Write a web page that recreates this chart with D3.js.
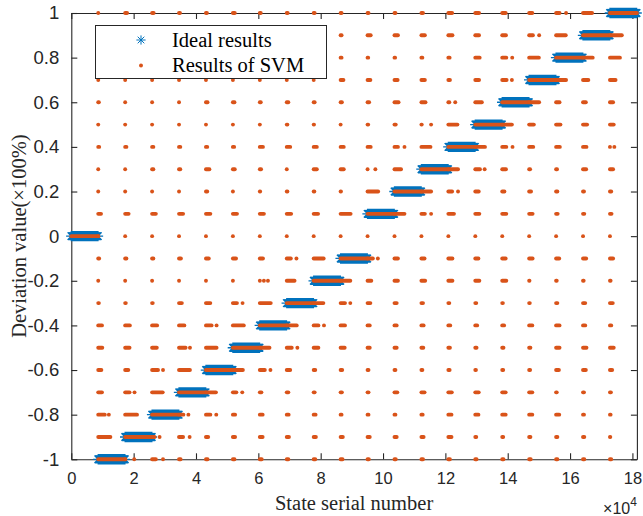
<!DOCTYPE html>
<html>
<head>
<meta charset="utf-8">
<script src="https://cdn.jsdelivr.net/npm/d3@7"></script>
<style>
  body { margin: 0; background: #fff; }
  svg { display: block; }
</style>
</head>
<body>
<svg id="chart" width="643" height="516"></svg>
<script>
// ---- data ---------------------------------------------------------------
// Ideal deviation level of each block of states, in order along the x axis
const idealLevels = [0, -1, -0.9, -0.8, -0.7, -0.6, -0.5, -0.4, -0.3, -0.2, -0.1,
                     0.1, 0.2, 0.3, 0.4, 0.5, 0.6, 0.7, 0.8, 0.9, 1];
const blockStates = 8640;          // states per block
const xUnit = 1e4;                 // x axis is shown in units of 10^4 states

const xTickValues = [0, 2, 4, 6, 8, 10, 12, 14, 16, 18];
const xTickLabels = ["0", "2", "4", "6", "8", "10", "12", "14", "16", "18"];
const yTickValues = [-1, -0.8, -0.6, -0.4, -0.2, 0, 0.2, 0.4, 0.6, 0.8, 1];
const yTickLabels = ["-1", "-0.8", "-0.6", "-0.4", "-0.2", "0", "0.2", "0.4", "0.6", "0.8", "1"];

// Output levels of the SVM (one row of svmRuns per level)
const svmLevels = [1, 0.9, 0.8, 0.7, 0.6, 0.5, 0.4, 0.3, 0.2, 0.1, 0,
                   -0.1, -0.2, -0.3, -0.4, -0.5, -0.6, -0.7, -0.8, -0.9, -1];

// For blocks 1..20: length (x10^4 states) of the run of states that the SVM put
// on this level, counted from the block start. [len, off, ...] adds isolated
// states at the given offsets. null = the block's own (ideal) level.
const svmRuns = [
  [0, .06, .05, .03, .03, .06, .03, .03, .03, .03, .03, .03, .05, .12, .12, .11, .10, [.11, .32], .29, null],
  [.03, .03, .03, .03, .03, .03, .03, .03, .03, .03, .10, .11, .11, .13, .12, .12, [.12, .32], .31, null, .38],
  [.03, .03, .03, .03, .03, .03, .03, .03, .03, .03, .02, .02, .03, .04, .14, [.13, .32], .31, null, .31, .32],
  [0, 0, 0, 0, 0, 0, 0, 0, 0, .09, .09, .10, .11, .05, .12, [.14, .31], null, .32, .17, .18],
  [.02, 0, 0, 0, .05, .05, .03, .05, .03, .04, .05, .13, .13, [.03, .22], .21, null, .32, .11, .09, .10],
  [0, 0, 0, 0, 0, 0, 0, .02, .01, 0, .02, .04, [.01, .31], .29, null, .31, .15, .14, .13, .12],
  [.03, .04, .04, .04, .04, .04, .10, .11, .10, .10, .10, [.11, .32], .29, null, .31, [.13, .33], .13, .12, .11, [0, .14]],
  [0, 0, .04, .04, .11, .06, .04, 0, .10, .10, [0, .25], .21, null, .31, [.15, .30], .12, .03, .03, .10, .10],
  [0, 0, 0, 0, .04, 0, .01, .02, .02, .01, .34, null, .31, [.12, .31], .11, .07, .06, .04, .03, .04],
  [.09, .11, .12, .13, .14, .13, .13, .14, .14, .32, null, .32, [.11, .31], .18, .13, .13, .11, .05, .04, .05],
  [0, 0, 0, 0, 0, 0, 0, 0, 0, 0, 0, 0, 0, 0, 0, 0, 0, 0, 0, 0],
  [.03, .04, .04, .06, .09, .10, .10, [.13, .31], .32, null, [.17, .33], .11, .10, .13, .10, .11, .11, .10, .10, .10],
  [0, 0, 0, 0, 0, 0, [0, .13, .26], .25, null, .31, .12, .11, .12, .13, .13, .13, .01, .02, .02, .02],
  [.02, .02, .02, .09, .14, [.13, .31], .35, null, .31, [.14, .31], .09, .07, .05, .03, .03, .02, .02, .04, .07, .09],
  [.12, .15, .16, .17, [.18, .34], .35, null, .32, [.15, .33], .14, .07, .07, .07, .06, .06, .06, .10, .11, .07, .04],
  [.13, .14, .15, [.21, .35], .34, null, .31, [.16, .34], .15, .13, .07, .07, .06, .05, .04, .04, .04, .11, .11, .12],
  [.10, .10, [.19, .35], .35, null, .32, [.16, .34], .11, .05, .05, .03, .03, .03, .04, .02, .03, .03, .09, .09, .07],
  [.12, [.14, .30], .34, null, .32, [.11, .30], .05, .05, .03, .04, .03, .09, .10, .11, .11, .11, .10, .02, .03, .03],
  [[.21, .34], .38, null, [.14, .30], [.14, .33], .07, .09, .06, .06, .03, .03, .03, .04, .10, .10, .11, .10, .10, .03, .02],
  [.39, null, [.08, .24], [.13, .34], .07, .07, .09, .07, .07, .07, .07, .07, .07, .10, .03, .03, .04, .04, .04, .01],
  [null, [0, .29], [.12, .35], .05, .05, .05, .06, .05, .05, .06, .04, .04, .05, .05, .04, .04, .05, .04, .04, .04]
];

const legendLabels = ["Ideal results", "Results of SVM"];
const xLabel = "State serial number";
const yLabel = "Deviation value(\u00d7100%)";

// ---- layout -------------------------------------------------------------
const W = 643, H = 516;
const plot = { left: 71.3, right: 636.9, top: 13, bottom: 459.3 };
const BLUE = "#0072BD", ORANGE = "#D95319", AXIS = "#262626";
const serif = "'Liberation Serif', 'Times New Roman', serif";
const sans = "'Liberation Sans', Arial, Helvetica, sans-serif";

const blockLen = blockStates / xUnit;
const x = d3.scaleLinear().domain([0, idealLevels.length * blockLen]).range([plot.left, plot.right]);
const y = d3.scaleLinear().domain([-1, 1]).range([plot.bottom, plot.top]);

const svg = d3.select("#chart");
svg.append("rect").attr("width", W).attr("height", H).attr("fill", "#fff");

// ---- axes (box with inward ticks) --------------------------------------
const tickLen = 6;
const gAxes = svg.append("g").attr("class", "axes");

const xBottom = d3.axisBottom(x).tickValues(xTickValues)
  .tickFormat((d, i) => xTickLabels[i]).tickSizeInner(-tickLen).tickSizeOuter(0).tickPadding(13);
const xTop = d3.axisTop(x).tickValues(xTickValues).tickFormat("").tickSizeInner(-tickLen).tickSizeOuter(0);
const yLeft = d3.axisLeft(y).tickValues(yTickValues)
  .tickFormat((d, i) => yTickLabels[i]).tickSizeInner(-tickLen).tickSizeOuter(0).tickPadding(12);
const yRight = d3.axisRight(y).tickValues(yTickValues).tickFormat("").tickSizeInner(-tickLen).tickSizeOuter(0);

const gx = gAxes.append("g").attr("transform", `translate(0,${plot.bottom})`).call(xBottom);
gAxes.append("g").attr("transform", `translate(0,${plot.top})`).call(xTop);
const gy = gAxes.append("g").attr("transform", `translate(${plot.left},0)`).call(yLeft);
gAxes.append("g").attr("transform", `translate(${plot.right},0)`).call(yRight);

gAxes.selectAll(".domain").attr("stroke", AXIS).attr("stroke-width", 1.1);
gAxes.selectAll(".tick line").attr("stroke", AXIS).attr("stroke-width", 1.1);
gAxes.selectAll(".tick text").attr("fill", AXIS).style("font-family", sans);
gx.selectAll(".tick text").style("font-size", "16.5px");
gy.selectAll(".tick text").style("font-size", "18.5px");

// exponent note under the x axis
const expo = svg.append("text").attr("x", plot.right).attr("y", 514)
  .attr("text-anchor", "end").attr("fill", AXIS)
  .style("font-family", sans).style("font-size", "16px");
expo.append("tspan").text("\u00d710");
expo.append("tspan").attr("dy", -8).style("font-size", "12px").text("4");

// axis titles
svg.append("text").attr("x", (plot.left + plot.right) / 2).attr("y", 510)
  .attr("text-anchor", "middle").attr("fill", AXIS)
  .style("font-family", serif).style("font-size", "20.5px").text(xLabel);
svg.append("text")
  .attr("transform", `translate(26,${(plot.top + plot.bottom) / 2}) rotate(-90)`)
  .attr("text-anchor", "middle").attr("fill", AXIS)
  .style("font-family", serif).style("font-size", "20.5px").text(yLabel);

// ---- ideal results: one asterisk per sampled state --------------------
const asteriskR = 5.2;
function asterisk(cx, cy, r = asteriskR) {
  const d = r * 0.72;
  return `M${cx - r},${cy}H${cx + r}` +
         `M${cx},${cy - r}V${cy + r}` +
         `M${cx - d},${cy - d}L${cx + d},${cy + d}` +
         `M${cx - d},${cy + d}L${cx + d},${cy - d}`;
}
const sampleStep = 150; // states between drawn asterisks
const gIdeal = svg.append("g").attr("class", "ideal");
idealLevels.forEach((lv, k) => {
  const states = d3.range(k * blockStates, (k + 1) * blockStates + 1, sampleStep);
  gIdeal.append("path")
    .attr("d", states.map(s => asterisk(x(s / xUnit), y(lv))).join(""))
    .attr("fill", "none").attr("stroke", BLUE).attr("stroke-width", 1.3);
});

// ---- SVM results: runs of states drawn as dense dots --------------------
const dotW = 3.9;
const gSvm = svg.append("g").attr("class", "svm")
  .attr("stroke", ORANGE).attr("stroke-width", dotW).attr("stroke-linecap", "round").attr("fill", "none");
function run(level, from, len) {
  const x0 = x(from), x1 = x(from + len);
  gSvm.append("path").attr("d", `M${x0},${y(level)}H${Math.max(x1, x0 + 0.01)}`);
}
// the correctly classified part of each block
idealLevels.forEach((lv, k) => run(lv, k * blockLen, blockLen));
// misclassified states at the start of each block
svmRuns.forEach((row, r) => {
  const lv = svmLevels[r];
  row.forEach((cell, c) => {
    if (cell === null) return;
    const start = (c + 1) * blockLen;
    const parts = Array.isArray(cell) ? cell : [cell];
    run(lv, start, parts[0]);
    parts.slice(1).forEach(off => run(lv, start + off, 0));
  });
});

// ---- legend -------------------------------------------------------------
const lg = svg.append("g").attr("class", "legend");
lg.append("rect").attr("x", 95.5).attr("y", 25.5).attr("width", 231).attr("height", 53)
  .attr("fill", "#fff").attr("stroke", AXIS).attr("stroke-width", 1);
lg.append("path").attr("d", asterisk(141, 40, 4.6)).attr("fill", "none")
  .attr("stroke", BLUE).attr("stroke-width", 1);
lg.append("path").attr("d", "M141,65.5H141.01").attr("stroke", ORANGE)
  .attr("stroke-width", dotW).attr("stroke-linecap", "round");
lg.selectAll("text.lab").data(legendLabels).join("text").attr("class", "lab")
  .attr("x", 172).attr("y", (d, i) => 47 + i * 24.5)
  .attr("fill", "#000").style("font-family", serif).style("font-size", "20.5px")
  .text(d => d);
</script>
</body>
</html>
